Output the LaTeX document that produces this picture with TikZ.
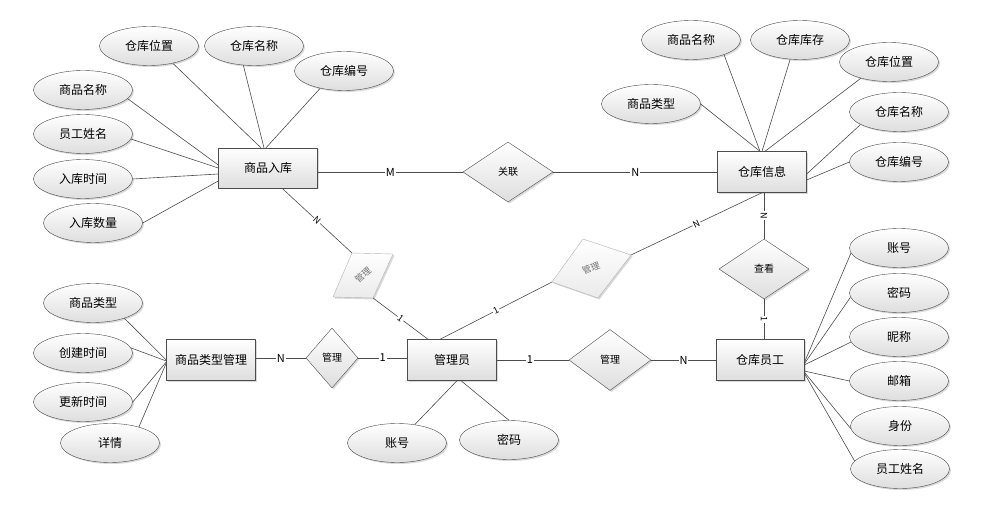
\documentclass[tikz,border=0pt]{standalone}
\usepackage{fontspec}
\newfontfamily\cjk{Noto Sans CJK SC}
\usetikzlibrary{shapes.geometric,shadows}

\begin{document}
\begin{tikzpicture}[x=1pt,y=-1pt,line join=round,
    every node/.style={font=\cjk\fontsize{12}{14}\selectfont},
    grad/.style={top color=white,bottom color=black!13},
    shd/.style={drop shadow={opacity=.3,shadow xshift=1.5pt,shadow yshift=-1.5pt}},
    entity/.style={rectangle,draw=black!70,grad,shd,minimum width=89pt,minimum height=41pt,inner sep=0pt},
    attr/.style={ellipse,draw=black!70,grad,shd,minimum width=99pt,minimum height=39pt,inner sep=0pt},
    rel/.style={diamond,draw=black!70,grad,shd,inner sep=0pt,font=\cjk\fontsize{10}{12}\selectfont},
    tilt/.style={draw=black!30,top color=white,bottom color=black!8,shd},
    tilttext/.style={text=black!55,font=\cjk\fontsize{9}{11}\selectfont},
    link/.style={draw=black!70,line width=.6pt},
    card/.style={fill=white,inner sep=1pt,font=\cjk\fontsize{11}{13}\selectfont},
    cards/.style={card,sloped,font=\cjk\fontsize{9}{11}\selectfont}]
    \useasboundingbox (0,0) rectangle (983,505);
    % entities
    \node[entity,minimum width=99pt,minimum height=40pt] (rk) at (268,168) {商品入库};
    \node[entity] (ck) at (762,172) {仓库信息};
    \node[entity] (lx) at (211,360) {商品类型管理};
    \node[entity] (gly) at (452,360) {管理员};
    \node[entity,minimum width=88pt] (yg) at (760,360) {仓库员工};
    % relations
    \node[rel,minimum width=90pt,minimum height=60pt] (gl) at (508,172) {关联};
    \node[rel,minimum width=52pt,minimum height=60pt] (gl2) at (332,358) {管理};
    \node[rel,minimum width=82pt,minimum height=61pt] (gl3) at (610,360) {管理};
    \node[rel,minimum width=90pt,minimum height=60pt] (ckk) at (764,269) {查看};
    % tilted relations
    \coordinate (p1) at (352,253); \coordinate (p2) at (393,254);
    \coordinate (p3) at (373,298); \coordinate (p4) at (333,297);
    \draw[tilt] (p1)--(p2)--(p3)--(p4)--cycle;
    \node[tilttext,rotate=40] (gl1) at (363,275) {管理};
    \coordinate (q1) at (583,239); \coordinate (q2) at (631,255);
    \coordinate (q3) at (598,298); \coordinate (q4) at (552,282);
    \draw[tilt] (q1)--(q2)--(q3)--(q4)--cycle;
    \node[tilttext,rotate=22] (gl4) at (591,268) {管理};
    % attributes
    \foreach \nm/\x/\y/\txt/\anc/\ent/\side/\dx/\dy in {
        a1/149/46/仓库位置/324/rk/north/-7/0, a2/254/46/仓库名称/241/rk/north/-4/0,
        a3/344/71/仓库编号/216/rk/north/-2/0, a4/83/90/商品名称/349/rk/west/0/3,
        a5/83/134/员工姓名/354/rk/west/0/0, a6/83/179/入库时间/0/rk/west/0/-6,
        a7/93/223/入库数量/0/rk/west/0/-13,
        b1/651/104/商品类型/0/ck/north/-2/0, b2/691/40/商品名称/336/ck/north/-2/0,
        b3/800/40/仓库库存/243/ck/north/0/0, b4/889/62/仓库位置/210/ck/north/3/0,
        b5/899/112/仓库名称/198/ck/east/0/-2, b6/899/162/仓库编号/180/ck/east/0/-8,
        d1/93/303/商品类型/334/lx/west/0/0, d2/83/353/创建时间/6/lx/west/0/-1,
        d3/83/402/更新时间/0/lx/west/0/-2, d4/110/443/详情/29/lx/west/0/-3,
        c1/899/248/账号/186/yg/east/0/-3, c2/899/293/密码/185/yg/east/0/-4,
        c3/899/337/昵称/186/yg/east/0/-5, c4/899/381/邮箱/180/yg/east/0/-11,
        c5/900/426/身份/183/yg/east/0/-12, c6/900/469/员工姓名/170/yg/east/0/-13,
        e1/397/443/账号/46/gly/south/5/0, e2/509/440/密码/90/gly/south/9/0}{
        \node[attr] (\nm) at (\x,\y) {\txt};
        \draw[link] (\nm.\anc) -- ([xshift=\dx pt,yshift=\dy pt]\ent.\side);
    }
    % links between entities and relations
    \draw[link] (rk.east |- gl.west) -- node[card]{M} (gl.west);
    \draw[link] (gl.east) -- node[card]{N} (gl.east -| ck.west);
    \draw[link] ([xshift=14pt]rk.south) -- node[cards]{N} (p1);
    \draw[link] (p3) -- node[cards]{1} ([xshift=-24pt]gly.north);
    \draw[link] ([xshift=-12pt]gly.north) -- node[cards]{1} (q4);
    \draw[link] (q2) -- node[cards]{N} (ck.south);
    \draw[link] (ck.south -| ckk.north) -- node[cards]{N} (ckk.north);
    \draw[link] (ckk.south) -- node[cards]{1} (ckk.south |- yg.north);
    \draw[link] (lx.east |- gl2.west) -- node[card]{N} (gl2.west);
    \draw[link] (gl2.east) -- node[card]{1} (gl2.east -| gly.west);
    \draw[link] (gly.east |- gl3.west) -- node[card,pos=.46]{1} (gl3.west);
    \draw[link] (gl3.east) -- node[card]{N} (gl3.east -| yg.west);
\end{tikzpicture}
\end{document}
